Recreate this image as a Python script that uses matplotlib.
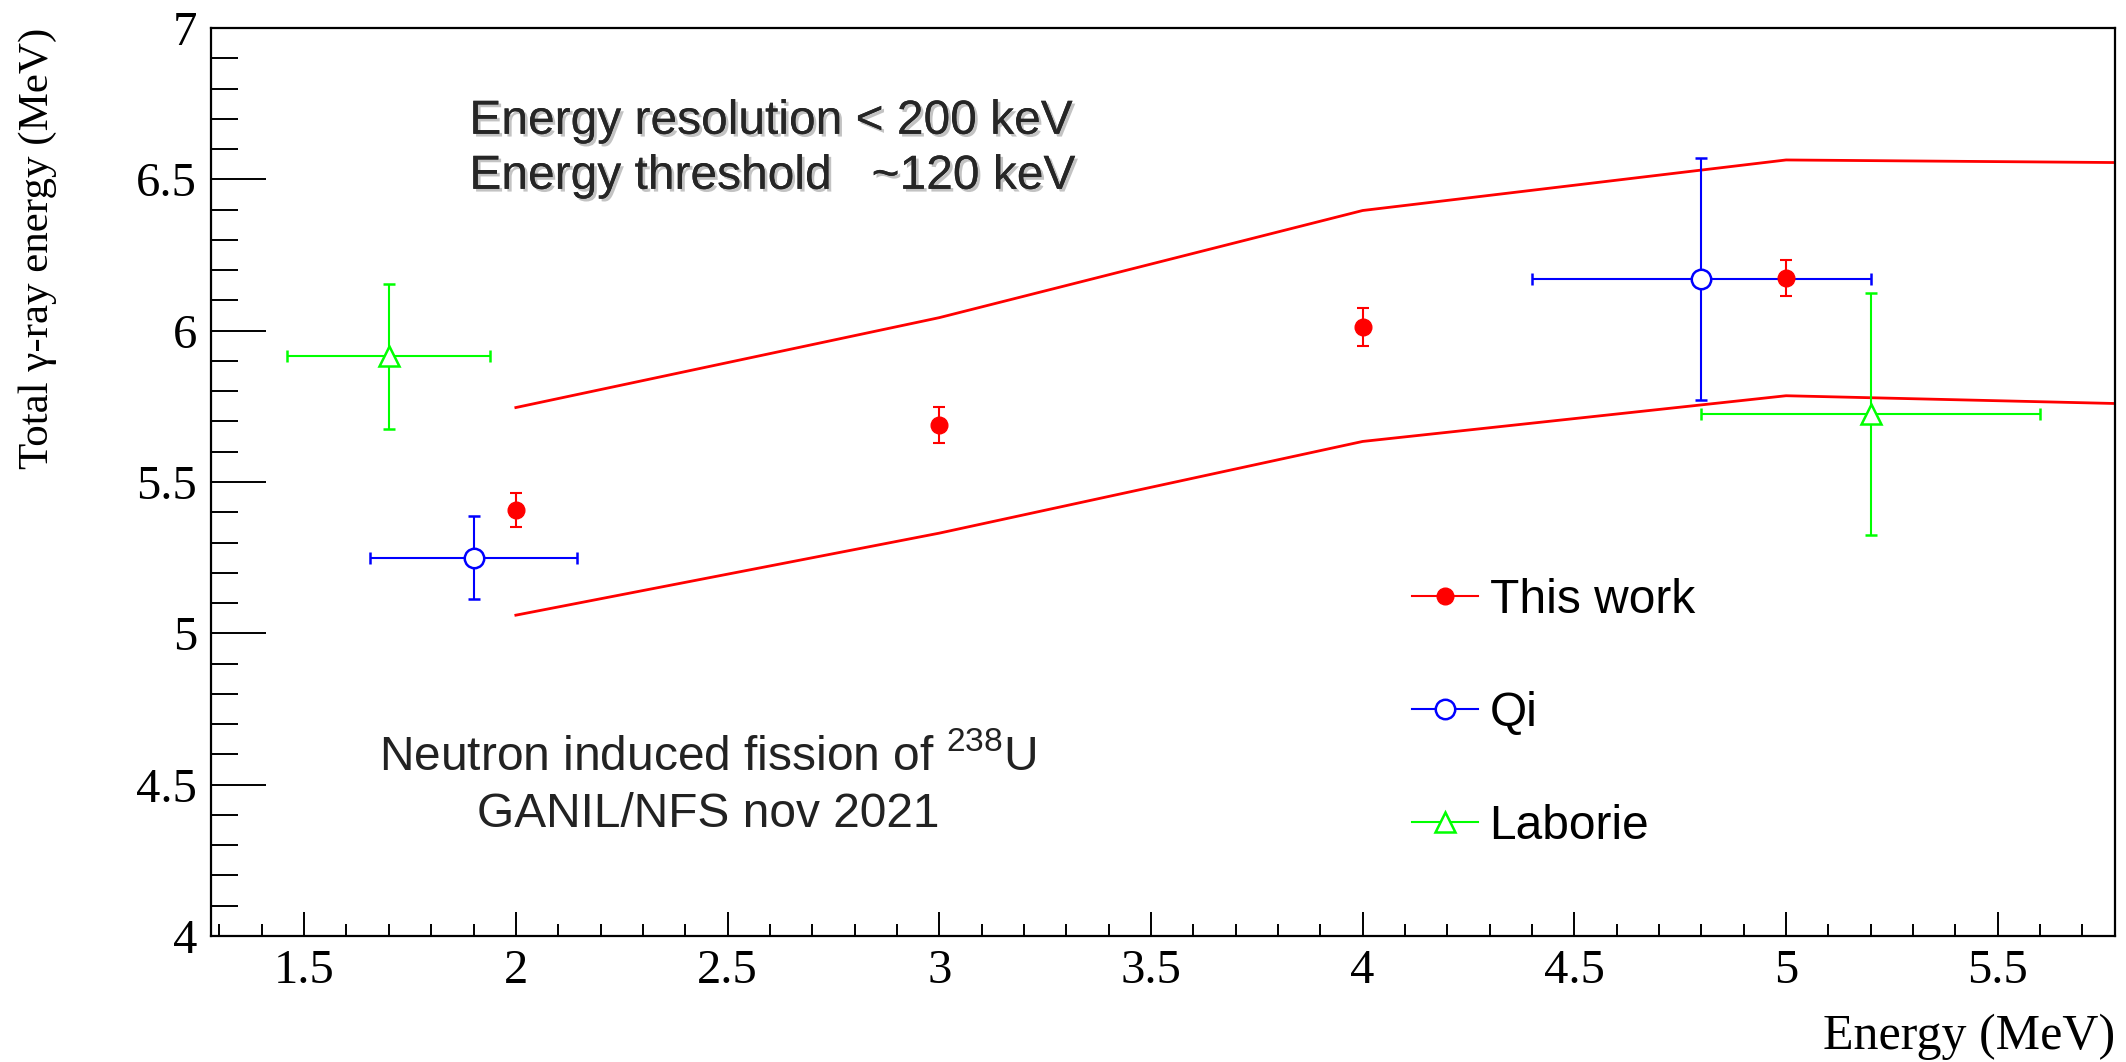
import matplotlib
matplotlib.use("Agg")
import matplotlib.pyplot as plt
import matplotlib.patheffects as pe
from matplotlib.lines import Line2D
from matplotlib.ticker import MultipleLocator, FuncFormatter

plt.rcParams['font.family'] = 'Liberation Serif'
plt.rcParams['mathtext.default'] = 'regular'

# This work (neutron energy, total gamma-ray energy, stat. error)
work_e = [2, 3, 4, 5]
work_tge = [5.408, 5.689, 6.013, 6.174]
work_err = [0.056, 0.059, 0.063, 0.060]

# Qi
qi_e = [1.9, 4.8]
qi_tge = [5.25, 6.171]
qi_eerr = [0.245, 0.40]
qi_err = [0.138, 0.40]

# Laborie
lab_e = [1.7, 5.2]
lab_tge = [5.915, 5.725]
lab_eerr = [0.24, 0.40]
lab_err = [0.24, 0.40]

# systematic band (red lines)
band_e = [2, 3, 4, 5, 6]
band_high = [5.746, 6.043, 6.397, 6.564, 6.553]
band_low = [5.060, 5.331, 5.634, 5.785, 5.752]

labels = ["This work", "Qi", "Laborie"]

RED, BLUE, GREEN = '#ff0000', '#0000ff', '#00ff00'

fig = plt.figure(figsize=(21.26, 10.62), dpi=100)
ax = fig.add_axes([0.09925, 0.11864, 0.8956, 0.855])

ax.plot(band_e, band_high, color=RED, lw=2, zorder=2)
ax.plot(band_e, band_low, color=RED, lw=2, zorder=2)

ax.errorbar(work_e, work_tge, yerr=work_err, fmt='o', color=RED, ms=12,
            elinewidth=1.5, capsize=4.3, capthick=1.5, zorder=4)
ax.errorbar(qi_e, qi_tge, xerr=qi_eerr, yerr=qi_err, fmt='o', color=BLUE,
            mfc='white', ms=14, mew=1.8, elinewidth=1.5, capsize=4,
            capthick=1.5, zorder=3)
ax.errorbar(lab_e, lab_tge, xerr=lab_eerr, yerr=lab_err, fmt='^', color=GREEN,
            mfc='white', ms=14, mew=1.8, elinewidth=1.5, capsize=4,
            capthick=1.5, zorder=3)

ax.set_xlim(1.28, 5.777)
ax.set_ylim(4, 7)

fmt = FuncFormatter(lambda v, p: '%g' % v)
ax.xaxis.set_major_locator(MultipleLocator(0.5))
ax.xaxis.set_minor_locator(MultipleLocator(0.1))
ax.yaxis.set_major_locator(MultipleLocator(0.5))
ax.yaxis.set_minor_locator(MultipleLocator(0.1))
ax.xaxis.set_major_formatter(fmt)
ax.yaxis.set_major_formatter(fmt)

ax.tick_params(which='both', direction='in', top=False, right=False)
ax.tick_params(axis='y', which='major', length=39.5, width=1.4, pad=10, labelsize=35)
ax.tick_params(axis='y', which='minor', length=19.5, width=1.4)
ax.tick_params(axis='x', which='major', length=17, width=1.4, pad=9, labelsize=35)
ax.tick_params(axis='x', which='minor', length=9, width=1.4)
for s in ax.spines.values():
    s.set_linewidth(1.6)

ax.set_xlabel('Energy (MeV)', fontsize=36, loc='right')
ax.xaxis.set_label_coords(1.0, -0.111)
ax.xaxis.label.set_va('center')
ax.set_ylabel('Total γ-ray energy (MeV)', fontsize=31, loc='top')
ax.yaxis.set_label_coords(-0.0909, 1.0)
ax.yaxis.label.set_va('center')

sans = 'Liberation Sans'
shadow = [pe.withSimplePatchShadow(offset=(2, -2), shadow_rgbFace='#888888', alpha=0.5),
          pe.Normal()]
ax.text(0.1357, 0.8835, 'Energy resolution < 200 keV', transform=ax.transAxes,
        family=sans, fontsize=34.5, color='#262626', va='baseline', path_effects=shadow)
ax.text(0.1357, 0.8229, 'Energy threshold   ~120 keV', transform=ax.transAxes,
        family=sans, fontsize=34.5, color='#262626', va='baseline', path_effects=shadow)

ax.text(0.261, 0.1828, 'Neutron induced fission of $^{238}$U', transform=ax.transAxes,
        family=sans, fontsize=34.5, color='#222222', ha='center', va='baseline')
ax.text(0.261, 0.12, 'GANIL/NFS nov 2021', transform=ax.transAxes,
        family=sans, fontsize=34.5, color='#222222', ha='center', va='baseline')

handles = [
    Line2D([], [], color=RED, marker='o', ms=12, lw=1.5),
    Line2D([], [], color=BLUE, marker='o', mfc='white', ms=14, mew=1.8, lw=1.5),
    Line2D([], [], color=GREEN, marker='^', mfc='white', ms=14, mew=1.8, lw=1.5),
]
ax.legend(handles, labels, loc='upper left', bbox_to_anchor=(0.631, 0.3943),
          frameon=False, prop={'family': sans, 'size': 34.5}, handlelength=1.36,
          handletextpad=0.25, labelspacing=1.42, borderpad=0, borderaxespad=0)

fig.savefig('out.png', dpi=100)
